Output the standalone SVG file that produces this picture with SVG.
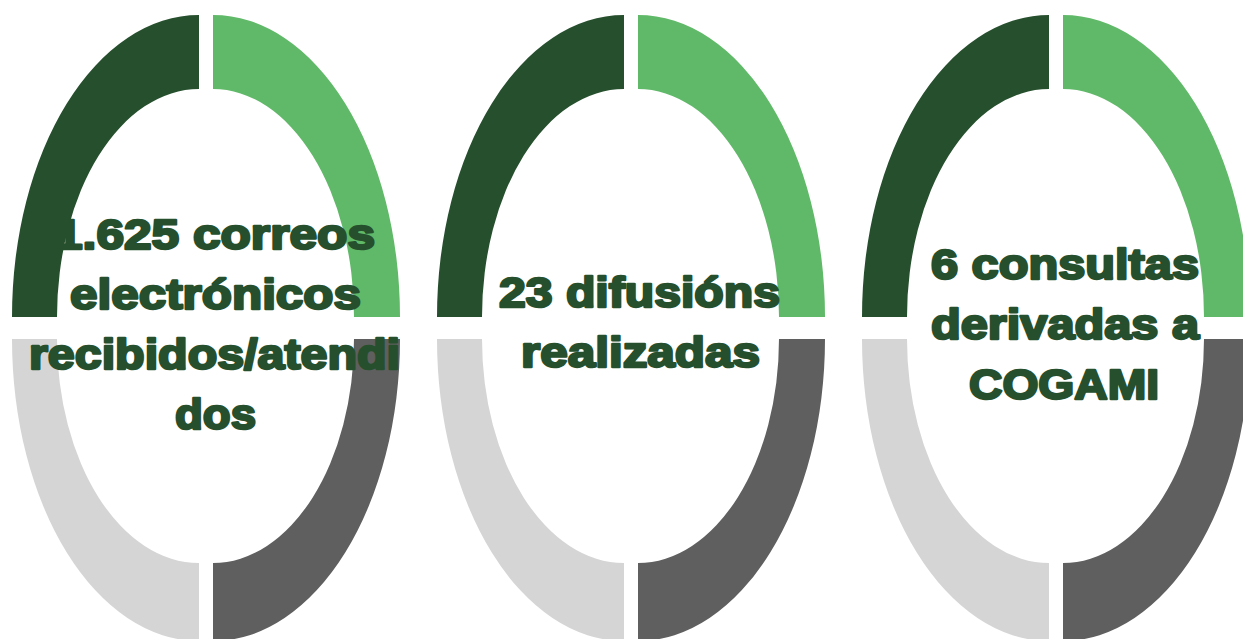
<svg xmlns="http://www.w3.org/2000/svg" xmlns:xlink="http://www.w3.org/1999/xlink" width="1243" height="639" viewBox="0 0 1243 639">
  <style>
    .q1 { fill: #264F2D; }
    .q2 { fill: #60B968; }
    .q3 { fill: #D5D5D5; }
    .q4 { fill: #5F5F5F; }
    .lbl { font-family: "Arial Black", "Liberation Sans", Arial, sans-serif; font-weight: 900; font-size: 42px; fill: #264F2D; stroke: #264F2D; stroke-width: 2.4; stroke-linejoin: round; text-anchor: middle; }
  </style>
  <defs>
    <path id="tl" d="M12,317 A187,302 0 0 1 199,15 L199,89 A142,228 0 0 0 57,317 Z"/>
    <path id="tr" d="M213,15 A187,302 0 0 1 400,317 L354,317 A141,228 0 0 0 213,89 Z"/>
    <path id="bl" d="M12,339 A187,302 0 0 0 199,641 L199,563 A142,224 0 0 1 57,339 Z"/>
    <path id="br" d="M213,641 A187,302 0 0 0 400,339 L354,339 A141,224 0 0 1 213,563 Z"/>
    <g id="ring">
      <use xlink:href="#tl" class="q1"/>
      <use xlink:href="#tr" class="q2"/>
      <use xlink:href="#bl" class="q3"/>
      <use xlink:href="#br" class="q4"/>
    </g>
  </defs>
  <rect width="1243" height="639" fill="#FFFFFF"/>
  <g id="node-correos">
    <use xlink:href="#ring"/>
    <text class="lbl" x="215" y="249" textLength="320" lengthAdjust="spacingAndGlyphs">1.625 correos</text>
    <text class="lbl" x="215.5" y="309" textLength="291" lengthAdjust="spacingAndGlyphs">electrónicos</text>
    <text class="lbl" x="214.5" y="369" textLength="371" lengthAdjust="spacingAndGlyphs">recibidos/atendi</text>
    <text class="lbl" x="215.5" y="429" textLength="81" lengthAdjust="spacingAndGlyphs">dos</text>
  </g>
  <g id="node-difusions">
    <use xlink:href="#ring" transform="translate(425,0)"/>
    <text class="lbl" x="639.5" y="307" textLength="281" lengthAdjust="spacingAndGlyphs">23 difusións</text>
    <text class="lbl" x="640.5" y="367" textLength="239" lengthAdjust="spacingAndGlyphs">realizadas</text>
  </g>
  <g id="node-consultas">
    <use xlink:href="#ring" transform="translate(850,0)"/>
    <text class="lbl" x="1065" y="279" textLength="268" lengthAdjust="spacingAndGlyphs">6 consultas</text>
    <text class="lbl" x="1065" y="339" textLength="268" lengthAdjust="spacingAndGlyphs">derivadas a</text>
    <text class="lbl" x="1064" y="399" textLength="190" lengthAdjust="spacingAndGlyphs">COGAMI</text>
  </g>
  <g id="connectors"/>
</svg>
